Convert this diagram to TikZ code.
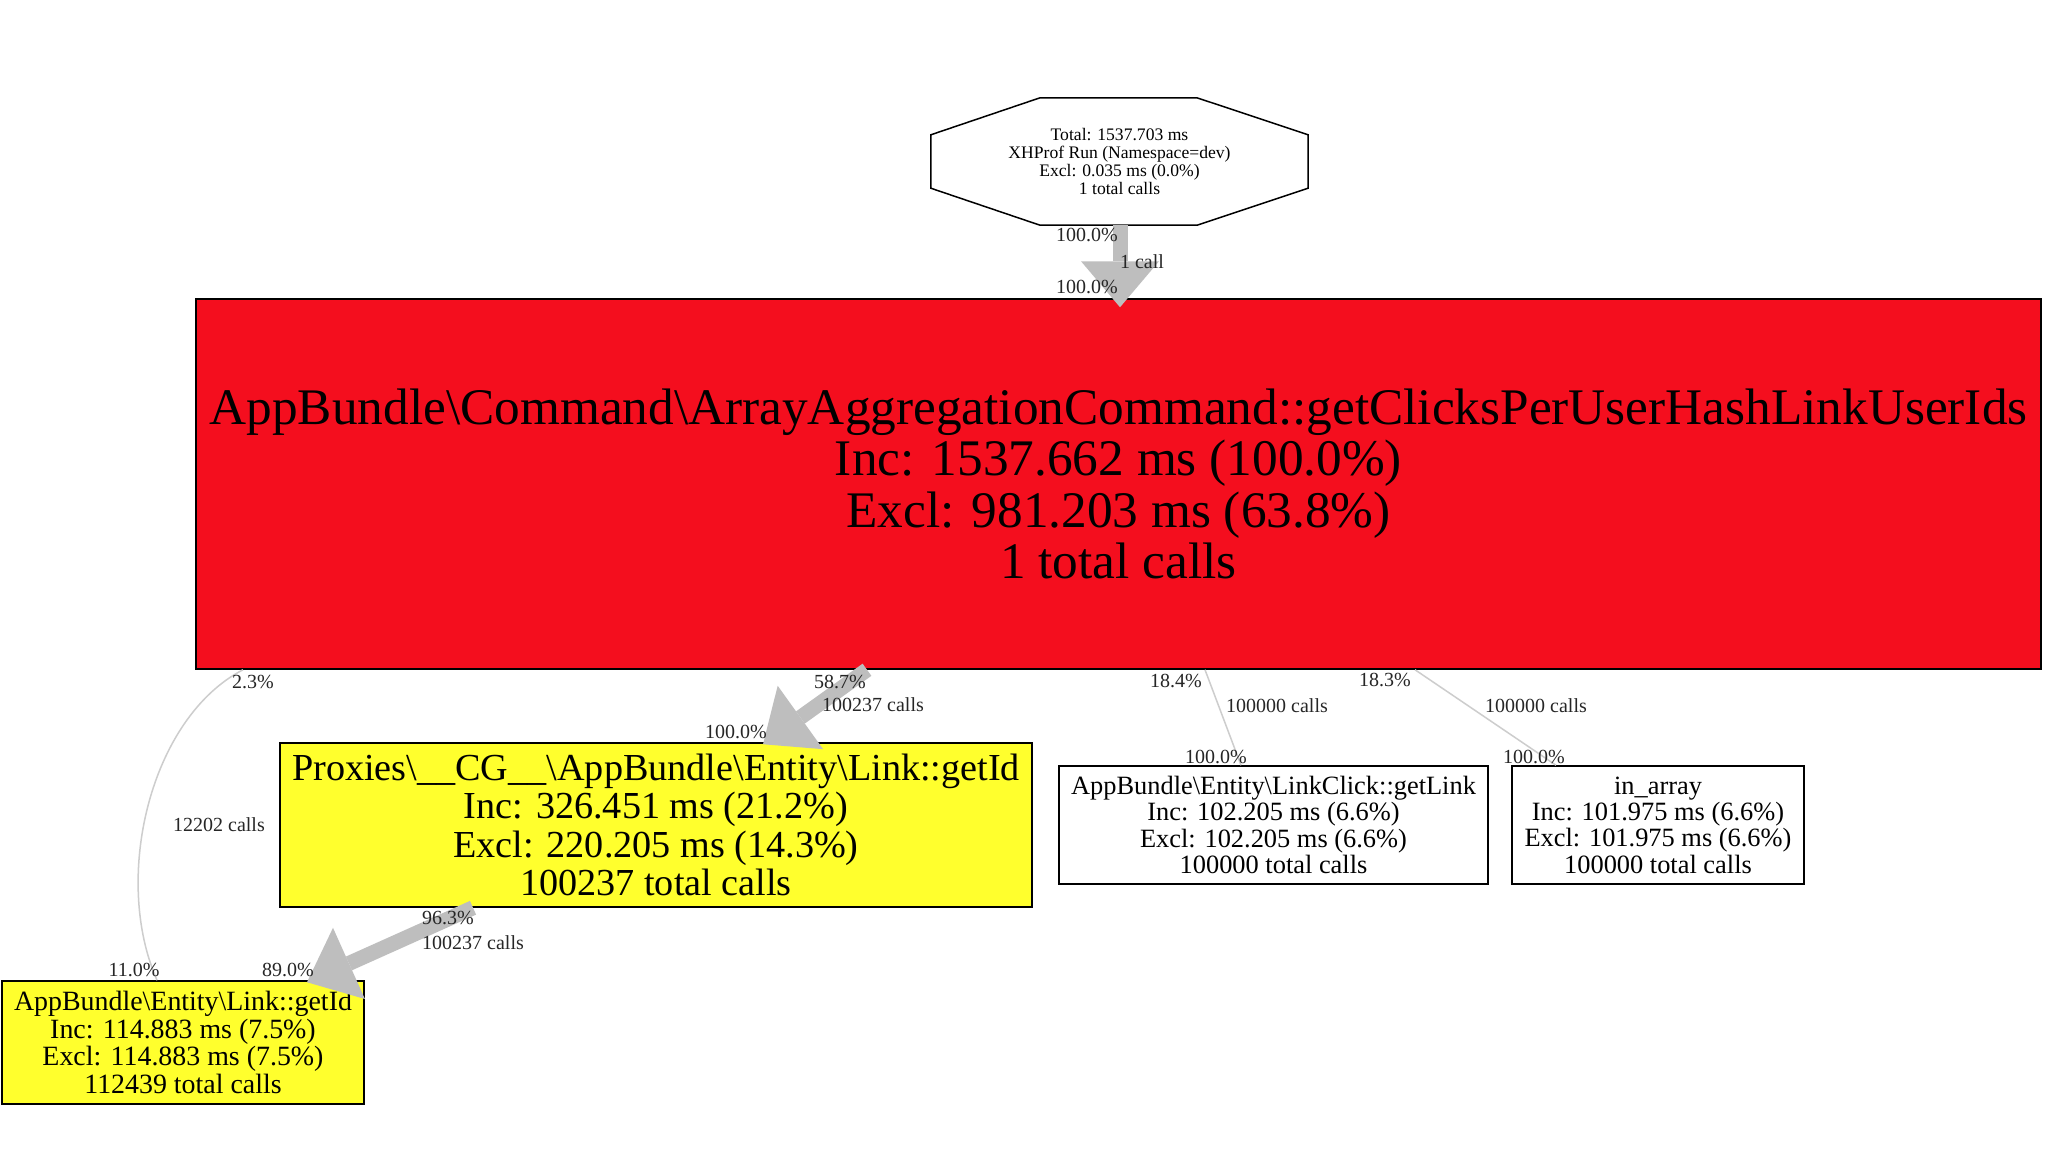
\documentclass[tikz,border=0pt]{standalone}
\usepackage{fontspec}
\setmainfont{Liberation Serif}
\usetikzlibrary{calc}
\definecolor{redfill}{RGB}{244,14,30}
\definecolor{yellowfill}{RGB}{255,255,45}
\definecolor{heavygray}{RGB}{190,190,190}
\definecolor{thingray}{RGB}{205,205,205}
\newcommand{\mybs}{\textbackslash{}}
% heavy call arrow: shaft plus large triangular head
\newcommand{\heavyarrow}[2]{%
  \path (#2) coordinate (hTip) ($(#2)!46pt!(#1)$) coordinate (hBase);
  \draw[heavyshaft] (#1) -- (hBase);
  \fill[heavygray] (hTip) -- ($(hBase)!39pt!90:(hTip)$) -- ($(hBase)!39pt!-90:(hTip)$) -- cycle;
}
\tikzset{
  fnbox/.style={draw=black, line width=1.5pt, inner sep=0pt, align=center},
  lbl/.style={font=\fontsize{20}{20}\selectfont, inner sep=0pt, text=black!85},
  heavyshaft/.style={draw=heavygray, line width=15pt},
  thinedge/.style={draw=thingray, line width=1.5pt},
}
\begin{document}
\begin{tikzpicture}[x=1pt,y=-1pt]
\fill[white] (0,0) rectangle (2048,1152);
\useasboundingbox (0,0) rectangle (2048,1152);

% nodes
\node[inner sep=0pt, minimum width=377pt, minimum height=127pt, align=center,
      font=\fontsize{17.6}{17.7}\selectfont] (top) at (1119.5,161.5)
  {Total: 1537.703 ms\\XHProf Run (Namespace=dev)\\Excl: 0.035 ms (0.0\%)\\1 total calls};
\draw[line width=1.5pt] ([xshift=-79.5pt]top.north) -- ([xshift=77.5pt]top.north)
  -- ([yshift=-37pt]top.north east) -- ([yshift=37pt]top.south east)
  -- ([xshift=77.5pt]top.south) -- ([xshift=-79.5pt]top.south)
  -- ([yshift=37pt]top.south west) -- ([yshift=-37pt]top.north west) -- cycle;

\node[fnbox, fill=redfill, minimum width=1845pt, minimum height=370pt,
      font=\fontsize{51.3}{51.3}\selectfont] (main) at (1118.5,484)
  {AppBundle\mybs Command\mybs ArrayAggregationCommand::getClicksPerUserHashLinkUserIds\\
   Inc: 1537.662 ms (100.0\%)\\Excl: 981.203 ms (63.8\%)\\1 total calls};

\node[fnbox, fill=yellowfill, minimum width=752pt, minimum height=164pt,
      font=\fontsize{38.2}{38.3}\selectfont] (proxy) at (656,825)
  {Proxies\mybs\_\_CG\_\_\mybs AppBundle\mybs Entity\mybs Link::getId\\
   Inc: 326.451 ms (21.2\%)\\Excl: 220.205 ms (14.3\%)\\100237 total calls};

\node[fnbox, minimum width=429pt, minimum height=118pt,
      font=\fontsize{26.4}{26.3}\selectfont] (linkclick) at (1273.5,825)
  {AppBundle\mybs Entity\mybs LinkClick::getLink\\Inc: 102.205 ms (6.6\%)\\
   Excl: 102.205 ms (6.6\%)\\100000 total calls};

\node[fnbox, minimum width=292pt, minimum height=118pt,
      font=\fontsize{26.4}{26.3}\selectfont] (inarray) at (1658,825)
  {in\_array\\Inc: 101.975 ms (6.6\%)\\Excl: 101.975 ms (6.6\%)\\100000 total calls};

\node[fnbox, fill=yellowfill, minimum width=362pt, minimum height=123pt,
      font=\fontsize{27.9}{27.8}\selectfont] (getid) at (183,1042.5)
  {AppBundle\mybs Entity\mybs Link::getId\\Inc: 114.883 ms (7.5\%)\\
   Excl: 114.883 ms (7.5\%)\\112439 total calls};

% connectors
\draw[thinedge] ([xshift=-875.5pt]main.south) .. controls (150,718) and (112,878) .. ([xshift=-26pt]getid.north);
\draw[thinedge] ([xshift=86.5pt]main.south) -- ([xshift=-32.5pt]linkclick.north);
\draw[thinedge] ([xshift=296.5pt]main.south) -- ([xshift=-102pt]inarray.north);
\heavyarrow{[xshift=0.5pt]top.south}{[xshift=1.5pt,yshift=-9pt]main.north}
\heavyarrow{[xshift=-251.5pt]main.south}{[xshift=107pt,yshift=-2pt]proxy.north}
\heavyarrow{[xshift=-183pt]proxy.south}{[xshift=124pt,yshift=-2pt]getid.north}

% labels
\node[lbl] (l1) at (1087,235) {100.0\%};
\node[lbl] (l2) at (1142,262) {1 call};
\node[lbl] (l3) at (1087,287) {100.0\%};
\node[lbl] (l4) at (253,682) {2.3\%};
\node[lbl] (l5) at (219,825) {12202 calls};
\node[lbl] (l6) at (134,970) {11.0\%};
\node[lbl] (l7) at (840,682) {58.7\%};
\node[lbl] (l8) at (873,705) {100237 calls};
\node[lbl] (l9) at (736,732) {100.0\%};
\node[lbl] (l10) at (1176,681) {18.4\%};
\node[lbl] (l11) at (1277,706) {100000 calls};
\node[lbl] (l12) at (1216,757) {100.0\%};
\node[lbl] (l13) at (1385,680) {18.3\%};
\node[lbl] (l14) at (1536,706) {100000 calls};
\node[lbl] (l15) at (1534,757) {100.0\%};
\node[lbl] (l16) at (448,918) {96.3\%};
\node[lbl] (l17) at (473,943) {100237 calls};
\node[lbl] (l18) at (288,970) {89.0\%};
\end{tikzpicture}
\end{document}
